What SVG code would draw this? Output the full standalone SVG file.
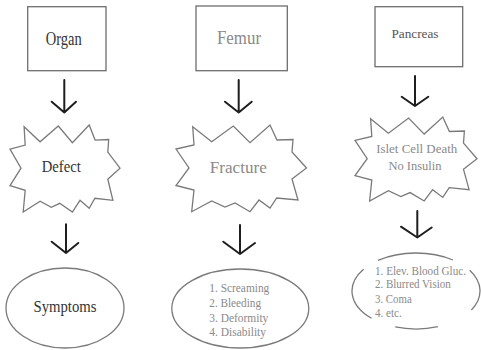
<svg xmlns="http://www.w3.org/2000/svg" width="481" height="350" viewBox="0 0 481 350">
<defs>
<style>
.box{fill:#fff;stroke:#6e6e6e;stroke-width:1.3}
.shape{fill:#fff;stroke:#7a7a7a;stroke-width:1.3;stroke-linejoin:miter}
.arc{fill:none;stroke:#7a7a7a;stroke-width:1.3}
.arrow{fill:none;stroke:#1e1e1e;stroke-width:2;stroke-linecap:round;stroke-linejoin:round}
.c{text-anchor:middle}
.dark{fill:#333}
.mid{fill:#555}
.light{fill:#8a8a8a}
</style>
</defs>
<rect width="481" height="350" fill="#fff"/>
<g id="connectors">
<path class="arrow" d="M64.3,80 V112.5 M51.7,101.7 L64.3,112.5 L76,101.7"/>
<path class="arrow" d="M66,224.3 V253 M51.7,241.7 L66,253 L78.3,243"/>
<path class="arrow" d="M238.7,80 V112.5 M225,101.7 L238.7,112.5 L251.7,101.7"/>
<path class="arrow" d="M240,225 V254 M223.3,241.7 L240,254 L255,243"/>
<path class="arrow" d="M415,76 V106 M401.7,96.7 L415,106 L428.3,96.7"/>
<path class="arrow" d="M417.3,211 V237.5 M401,226.7 L417.3,237.5 L431.7,227.5"/>
</g>
<g font-family="'Liberation Serif', 'Times New Roman', serif">
<g id="node-organ">
<rect class="box" x="27.7" y="6.7" width="78.3" height="64"/>
<text class="c dark" x="63.8" y="44.5" font-size="18" textLength="36" lengthAdjust="spacingAndGlyphs">Organ</text>
</g>
<g id="node-defect">
<polygon class="shape" points="24.1,126.7 40.1,141.8 58.3,126 72.4,142.7 89.2,125 95.1,140.1 108.7,139.5 107.8,152.1 120,168.2 107.8,179.2 112.9,200.3 94.9,198.3 89.2,208.3 80,200.3 72.4,212 59.7,203.3 51.3,207.3 40.1,201.3 23.2,212 25.2,190.3 10,185.7 21,168.2 10,149.1 25.2,145.1"/>
<text class="c dark" x="61.3" y="172" font-size="16" textLength="39" lengthAdjust="spacingAndGlyphs">Defect</text>
</g>
<g id="node-symptoms">
<ellipse class="shape" cx="65" cy="308" rx="59" ry="40"/>
<text class="c dark" x="65" y="311.5" font-size="16" textLength="63" lengthAdjust="spacingAndGlyphs">Symptoms</text>
</g>
<g id="node-femur">
<rect class="box" x="196" y="6" width="91.3" height="64.7"/>
<text class="c light" x="239" y="44" font-size="19" textLength="44" lengthAdjust="spacingAndGlyphs">Femur</text>
</g>
<g id="node-fracture">
<polygon class="shape" points="192.7,126.7 211.7,141.7 233.3,126 250,142.7 270,125 277,140 293,139.5 292,152 306.5,168 292,179 298,200 276.7,198 270,208 259,200 250,211.7 235,203 225,207 211.7,201 191.7,211.7 194,190 176,185.5 189,168 176,149 194,145"/>
<text class="c light" x="238.3" y="173" font-size="17.5" textLength="57" lengthAdjust="spacingAndGlyphs">Fracture</text>
</g>
<g id="node-femur-symptoms">
<ellipse class="shape" cx="240.3" cy="308.5" rx="68.5" ry="39.5"/>
<text class="light" x="209.3" y="292.3" font-size="13.5" textLength="60" lengthAdjust="spacingAndGlyphs">1. Screaming</text>
<text class="light" x="209.3" y="307" font-size="13.5" textLength="51.7" lengthAdjust="spacingAndGlyphs">2. Bleeding</text>
<text class="light" x="209.3" y="321.7" font-size="13.5" textLength="59" lengthAdjust="spacingAndGlyphs">3. Deformity</text>
<text class="light" x="209.3" y="336.3" font-size="13.5" textLength="56.7" lengthAdjust="spacingAndGlyphs">4. Disability</text>
</g>
<g id="node-pancreas">
<rect class="box" x="375" y="6.7" width="87.7" height="60"/>
<text class="c mid" x="415" y="38" font-size="13.5" textLength="47" lengthAdjust="spacingAndGlyphs">Pancreas</text>
</g>
<g id="node-islet">
<polygon class="shape" points="370.6,118.7 388.4,133.2 408.6,118 424.2,134.1 442.8,117 449.4,131.5 464.4,131 463.5,143.1 477,158.7 463.5,169.3 469.1,189.7 449.2,187.7 442.8,197.4 432.6,189.7 424.2,201 410.1,192.6 400.8,196.5 388.4,190.7 369.6,201 371.8,180 355,175.6 367.2,158.7 355,140.3 371.8,136.4"/>
<text class="c light" x="416.7" y="153" font-size="13.5" textLength="81" lengthAdjust="spacingAndGlyphs">Islet Cell Death</text>
<text class="c light" x="415" y="169.5" font-size="13.5" textLength="53" lengthAdjust="spacingAndGlyphs">No Insulin</text>
</g>
<g id="node-pancreas-symptoms">
<path class="arc" d="M378,260.4 A64,38 0 0 1 453,260 M469.7,270.3 A64,38 0 0 1 471.4,310 M437.9,326.7 A64,38 0 0 1 395.2,326.9 M371.5,318.3 A64,38 0 0 1 363.6,269.2"/>
<text class="light" x="375" y="274.7" font-size="13" textLength="91" lengthAdjust="spacingAndGlyphs">1. Elev. Blood Gluc.</text>
<text class="light" x="375" y="288.3" font-size="13" textLength="75.7" lengthAdjust="spacingAndGlyphs">2. Blurred Vision</text>
<text class="light" x="375" y="302.5" font-size="13" textLength="36.7" lengthAdjust="spacingAndGlyphs">3. Coma</text>
<text class="light" x="375" y="317.3" font-size="13" textLength="26.7" lengthAdjust="spacingAndGlyphs">4. etc.</text>
</g>
</g>
</svg>
